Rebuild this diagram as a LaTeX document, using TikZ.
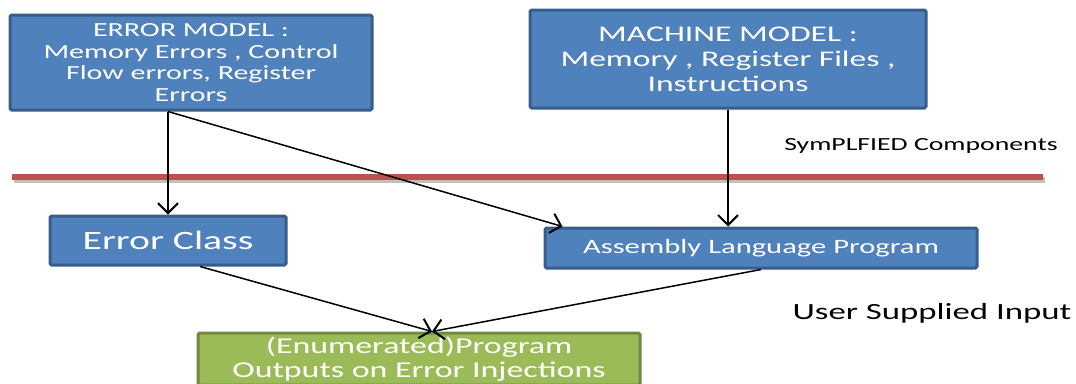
\documentclass[tikz,border=0pt]{standalone}
\usepackage{fontspec}
\setmainfont[FakeStretch=1.5]{Carlito}
\usepackage{xcolor}
\usetikzlibrary{calc, arrows.meta, positioning}

\definecolor{boxblue}{HTML}{4F81BD}
\definecolor{boxblueline}{HTML}{385D8A}
\definecolor{boxgreen}{HTML}{9BBB59}
\definecolor{boxgreenline}{HTML}{71893F}
\definecolor{divred}{HTML}{C0504D}

\begin{document}
\begin{tikzpicture}[x=1pt, y=-1pt, >=latex]
		\tikzstyle{bluebox} = [draw=boxblueline, line width=3pt, fill=boxblue, text=white, rounded corners=1.5pt, align=center, inner sep=0pt]
		\tikzstyle{greenbox} = [draw=boxgreenline, line width=3pt, fill=boxgreen, text=white, rounded corners=1.5pt, align=center, inner sep=0pt]
		\tikzstyle{invis} = [draw=none, inner sep=0pt]
		\tikzstyle{arrow} = [line width=2pt, -{Straight Barb[length=10pt, width=20pt, line width=2pt]}]
		
		\clip (0, 0) rectangle (1076, 383);
		\useasboundingbox (0, 0) rectangle (1076, 383);
		
		% upper boxes
		\node[bluebox, minimum width=362, minimum height=95, font=\fontsize{20}{21.8}\selectfont] at (191, 62.5) (emodel)
			{ERROR MODEL :\\Memory Errors , Control\\Flow errors, Register\\Errors};
		\node[bluebox, minimum width=396, minimum height=98, font=\fontsize{22.4}{25}\selectfont] at (728, 59) (mmodel)
			{MACHINE MODEL :\\Memory , Register Files ,\\Instructions};
		
		% divider
		\coordinate (redL) at (12, 177);
		\coordinate (redR) at (1043, 177);
		\draw[line width=5.5pt, black!25] ($(redL)+(2, 3)$) -- ($(redR)+(2, 3)$);
		\draw[line width=5.5pt, divred] (redL) -- (redR);
		\node[invis, font=\fontsize{18.5}{20}\selectfont] at (921, 146) (symlbl) {SymPLFIED Components};
		
		% lower boxes
		\node[bluebox, minimum width=236, minimum height=49, font=\fontsize{26.5}{28}\selectfont] at (168, 240.5) (ecls) {Error Class};
		\node[bluebox, minimum width=432, minimum height=40, font=\fontsize{20.4}{22}\selectfont] at (761, 248) (asm) {Assembly Language Program};
		\node[invis, font=\fontsize{23.2}{24}\selectfont] at (932, 313) (userlbl) {User Supplied Input};
		\node[greenbox, minimum width=442, minimum height=52, font=\fontsize{22.6}{23.5}\selectfont] at (419, 359) (out)
			{(Enumerated)Program\\Outputs on Error Injections};
		
		% connectors
		\draw[arrow] (emodel.south -| ecls.north) -- (ecls.north);
		\draw[arrow, line width=1.5pt] (emodel.south -| ecls.north) -- ($(asm.north west)+(19, 0)$);
		\draw[arrow] (mmodel.south) -- (mmodel.south |- asm.north);
		\draw[arrow, line width=1.5pt] ($(ecls.south)+(32, 0)$) -- ($(out.north)+(13, 0)$);
		\draw[arrow, line width=1.5pt] (asm.south) -- ($(out.north)+(13, 0)$);
	\end{tikzpicture}
\end{document}
